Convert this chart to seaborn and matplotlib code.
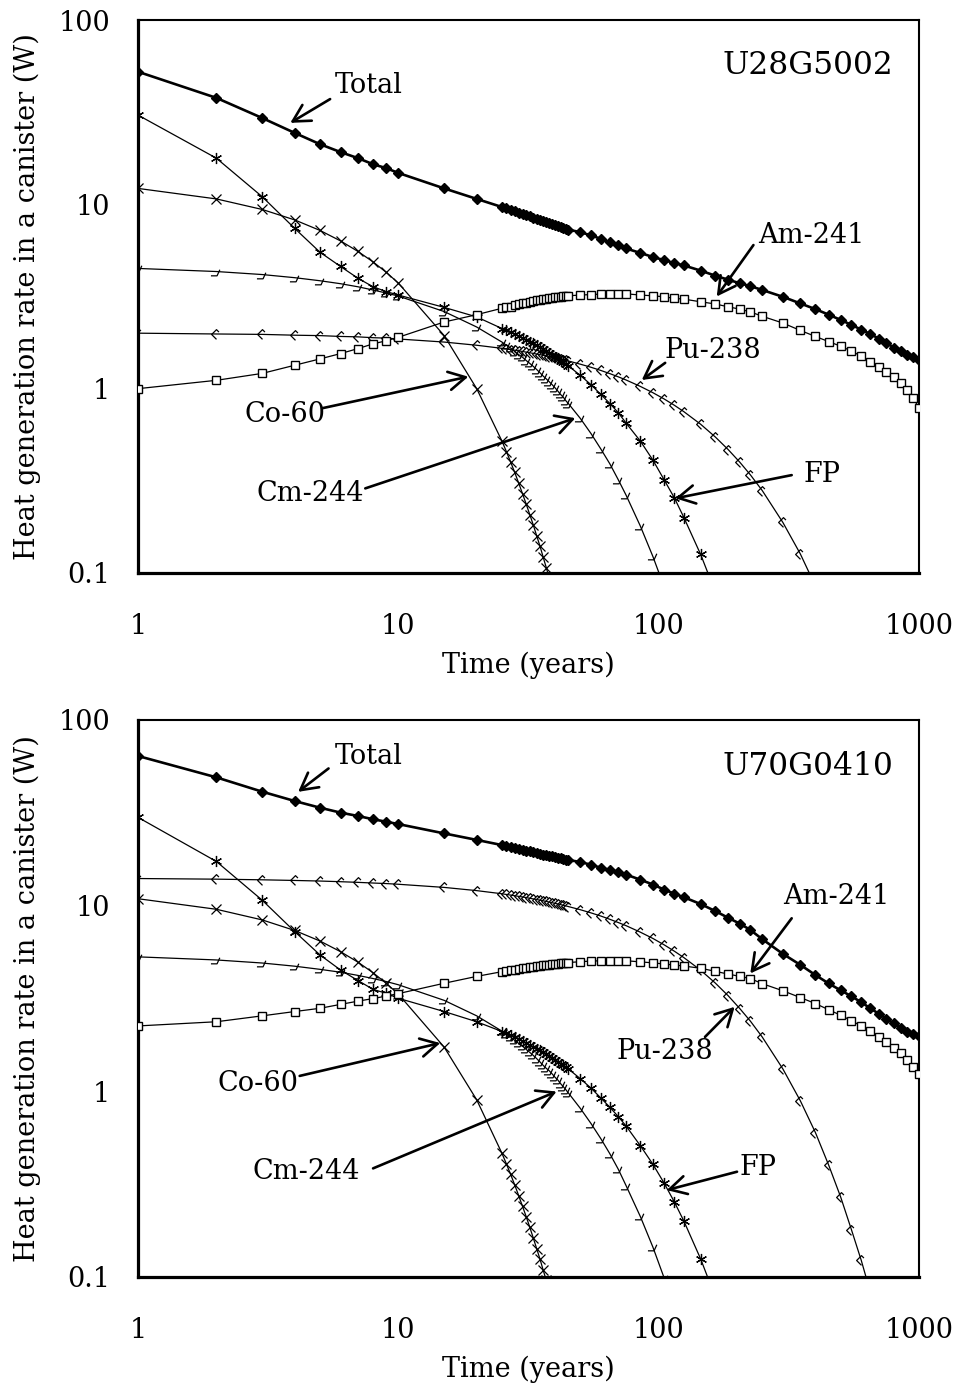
import matplotlib
matplotlib.use("Agg")
import matplotlib.pyplot as plt
from matplotlib.path import Path
from matplotlib.ticker import NullLocator
import seaborn as sns

# ---------------------------------------------------------------- data
YEARS = [1, 2, 3, 4, 5, 6, 7, 8, 9, 10, 15, 20,
         25, 26, 27, 28, 29, 30, 31, 32, 33, 34, 35, 36, 37, 38, 39, 40, 41, 42, 43, 44, 45,
         50, 55, 60, 65, 70, 75, 85, 95, 105, 115, 125, 145, 165, 185, 205, 225,
         250, 300, 350, 400, 450, 500, 550, 600, 650, 700, 750, 800, 850, 900, 950, 1000]

# canister U28G5002 (W)
total_a = [52.4, 37.8, 29.4, 24.4, 21.2, 19.2, 17.8, 16.5, 15.7, 14.8, 12.2, 10.7,
           9.67, 9.50, 9.33, 9.17, 9.02, 8.87, 8.73, 8.60, 8.47, 8.35, 8.23, 8.12, 8.01, 7.90, 7.80, 7.70,
           7.61, 7.52, 7.43, 7.35, 7.28,
           7.07, 6.78, 6.50, 6.22, 5.98, 5.76, 5.45, 5.18, 4.98, 4.80, 4.66, 4.37, 4.10, 3.90, 3.73, 3.60,
           3.43, 3.15, 2.90, 2.70, 2.52, 2.36, 2.22, 2.09, 1.98, 1.87, 1.77, 1.67, 1.60, 1.53, 1.48, 1.43]
fp_a = [30.5, 17.8, 11.0, 7.4, 5.5, 4.6, 3.97, 3.57, 3.36, 3.22, 2.76, 2.45,
        2.12, 2.07, 2.02, 1.98, 1.93, 1.89, 1.84, 1.80, 1.76, 1.72, 1.68, 1.64, 1.60, 1.56, 1.53, 1.49,
        1.46, 1.42, 1.39, 1.36, 1.33,
        1.18, 1.05, 0.93, 0.83, 0.74, 0.65, 0.52, 0.41, 0.32, 0.255, 0.20, 0.126, 0.079]
co_a = [12.2, 10.7, 9.38, 8.23, 7.22, 6.33, 5.55, 4.87, 4.27, 3.74, 1.94, 1.00,
        0.52, 0.456, 0.40, 0.351, 0.307, 0.269, 0.236, 0.207, 0.182, 0.159, 0.140, 0.122, 0.107, 0.094, 0.083]
cm_a = [4.49, 4.32, 4.16, 4.00, 3.85, 3.71, 3.57, 3.43, 3.30, 3.18, 2.62, 2.16,
        1.79, 1.72, 1.66, 1.59, 1.53, 1.48, 1.42, 1.37, 1.32, 1.27, 1.22, 1.17, 1.13, 1.09, 1.05, 1.01,
        0.97, 0.93, 0.90, 0.86, 0.83,
        0.69, 0.57, 0.47, 0.39, 0.32, 0.264, 0.18, 0.123, 0.084]
pu_a = [2.00, 1.98, 1.97, 1.95, 1.94, 1.92, 1.91, 1.89, 1.88, 1.86, 1.79, 1.72,
        1.655, 1.642, 1.629, 1.616, 1.603, 1.591, 1.578, 1.566, 1.553, 1.541, 1.529, 1.517, 1.505, 1.493,
        1.481, 1.470, 1.458, 1.447, 1.435, 1.424, 1.413,
        1.358, 1.306, 1.255, 1.206, 1.159, 1.114, 1.029, 0.951, 0.879, 0.812, 0.750, 0.641, 0.547, 0.467,
        0.399, 0.341,
        0.280, 0.188, 0.127, 0.085]
am_a = [1.00, 1.11, 1.21, 1.34, 1.45, 1.55, 1.65, 1.75, 1.82, 1.90, 2.30, 2.52,
        2.73, 2.76, 2.79, 2.83, 2.87, 2.90, 2.93, 2.96, 2.99, 3.01, 3.03, 3.05, 3.07, 3.09, 3.11, 3.13,
        3.15, 3.16, 3.17, 3.18, 3.19,
        3.22, 3.24, 3.26, 3.27, 3.28, 3.27, 3.22, 3.19, 3.15, 3.09, 3.06, 2.96, 2.88, 2.78, 2.70, 2.61,
        2.47, 2.27, 2.07, 1.92, 1.80, 1.70, 1.60, 1.50, 1.40, 1.31, 1.23, 1.15, 1.07, 0.98, 0.885, 0.79]

# canister U70G0410 (W)
total_b = [64.0, 49.1, 41.1, 36.6, 33.7, 31.7, 30.4, 29.2, 28.3, 27.5, 24.5, 22.6,
           21.2, 20.95, 20.7, 20.45, 20.2, 20.0, 19.8, 19.6, 19.4, 19.2, 19.0, 18.85, 18.7, 18.55, 18.4,
           18.25, 18.1, 17.95, 17.8, 17.7, 17.6,
           17.2, 16.6, 16.0, 15.55, 15.1, 14.7, 13.8, 13.0, 12.2, 11.6, 11.1, 10.2, 9.35, 8.6, 8.0, 7.4,
           6.6, 5.5, 4.8, 4.23, 3.81, 3.5, 3.25, 3.02, 2.8, 2.62, 2.46, 2.32, 2.2, 2.1, 2.04, 1.98]
fp_b = [29.9, 17.3, 10.7, 7.25, 5.43, 4.5, 3.95, 3.54, 3.37, 3.17, 2.69, 2.37,
        2.10, 2.05, 2.00, 1.96, 1.91, 1.87, 1.82, 1.78, 1.74, 1.70, 1.66, 1.62, 1.58, 1.55, 1.51, 1.48,
        1.44, 1.41, 1.38, 1.35, 1.32,
        1.17, 1.04, 0.92, 0.82, 0.73, 0.65, 0.51, 0.405, 0.32, 0.253, 0.20, 0.125, 0.078]
co_b = [10.9, 9.56, 8.38, 7.35, 6.45, 5.65, 4.96, 4.35, 3.81, 3.34, 1.73, 0.90,
        0.464, 0.407, 0.357, 0.313, 0.274, 0.240, 0.211, 0.185, 0.162, 0.142, 0.125, 0.109, 0.096, 0.084, 0.074]
cm_b = [5.30, 5.10, 4.91, 4.72, 4.54, 4.38, 4.21, 4.05, 3.90, 3.75, 3.09, 2.55,
        2.11, 2.03, 1.96, 1.88, 1.81, 1.75, 1.68, 1.62, 1.56, 1.50, 1.44, 1.38, 1.33, 1.29, 1.24, 1.19,
        1.15, 1.10, 1.06, 1.02, 0.98,
        0.81, 0.67, 0.555, 0.46, 0.38, 0.31, 0.212, 0.145, 0.0987]
pu_b = [14.0, 13.89, 13.78, 13.67, 13.57, 13.46, 13.35, 13.24, 13.15, 13.04, 12.54, 12.05,
        11.59, 11.49, 11.40, 11.31, 11.22, 11.14, 11.05, 10.96, 10.87, 10.79, 10.70, 10.62, 10.54, 10.45,
        10.37, 10.29, 10.21, 10.13, 10.05, 9.97, 9.89,
        9.51, 9.14, 8.79, 8.44, 8.11, 7.80, 7.20, 6.66, 6.15, 5.68, 5.25, 4.49, 3.83, 3.27, 2.79, 2.39,
        1.96, 1.32, 0.89, 0.60, 0.40, 0.27, 0.18, 0.123, 0.083]
am_b = [2.25, 2.37, 2.55, 2.69, 2.80, 2.94, 3.06, 3.16, 3.26, 3.36, 3.82, 4.16,
        4.41, 4.45, 4.49, 4.53, 4.57, 4.60, 4.63, 4.66, 4.69, 4.72, 4.75, 4.77, 4.79, 4.81, 4.83, 4.85,
        4.87, 4.89, 4.90, 4.92, 4.94,
        4.99, 5.03, 5.05, 5.06, 5.06, 5.05, 4.98, 4.92, 4.85, 4.79, 4.73, 4.60, 4.43, 4.28, 4.16, 4.05,
        3.80, 3.48, 3.20, 2.97, 2.75, 2.57, 2.40, 2.25, 2.11, 1.97, 1.84, 1.72, 1.60, 1.48, 1.36, 1.24]

X_TICKS = [1, 10, 100, 1000]
X_TICKLABELS = ["1", "10", "100", "1000"]
Y_TICKS = [0.1, 1, 10, 100]
Y_TICKLABELS = ["0.1", "1", "10", "100"]

# ---------------------------------------------------------------- style
sns.set_theme(style="white")
plt.rcParams["font.family"] = ["DejaVu Serif"]

FS = 19.5

# open markers imitating the clipped glyphs of the original plot
PU_MARK = Path([(0.5, 0.5), (0.0, 1.0), (-1.0, 0.0), (0.0, -1.0)],
               [Path.MOVETO, Path.LINETO, Path.LINETO, Path.LINETO])
CM_MARK = Path([(-1.0, -0.6), (0.1, -0.6), (0.6, 0.5)],
               [Path.MOVETO, Path.LINETO, Path.LINETO])
STAR6 = (6, 2, 0)

STYLE = {
    "Cm-244": dict(marker=CM_MARK, ms=8, mfc="none", mew=0.9, lw=0.9, z=3),
    "Pu-238": dict(marker=PU_MARK, ms=7, mfc="none", mew=0.9, lw=0.9, z=3),
    "Co-60": dict(marker="x", ms=7, mfc="none", mew=0.9, lw=0.9, z=4),
    "FP": dict(marker=STAR6, ms=8, mfc="none", mew=0.9, lw=0.9, z=4),
    "Am-241": dict(marker="s", ms=6.2, mfc="white", mew=1.0, lw=0.9, z=5),
    "Total": dict(marker="D", ms=5.2, mfc="black", mew=1.0, lw=1.9, z=6),
}


def draw_series(ax, values, name):
    st = STYLE[name]
    sns.lineplot(x=YEARS[:len(values)], y=values, ax=ax, color="black",
                 lw=st["lw"], marker=st["marker"], ms=st["ms"],
                 mfc=st["mfc"], mec="black", mew=st["mew"],
                 estimator=None, sort=False, errorbar=None, legend=False,
                 zorder=st["z"])


def label(ax, text, txt_xy, tail, head):
    ax.text(*txt_xy, text, transform=ax.transAxes, ha="center", va="center",
            fontsize=FS, color="black", zorder=10)
    ax.annotate("", xy=head, xytext=tail, xycoords="axes fraction",
                textcoords="axes fraction",
                arrowprops=dict(arrowstyle="->,head_length=0.55,head_width=0.3",
                                lw=1.9, color="black", shrinkA=0, shrinkB=0,
                                mutation_scale=22),
                zorder=10)


def setup(ax, sample):
    ax.set_xscale("log")
    ax.set_yscale("log")
    ax.set_xlim(1, 1000)
    ax.set_ylim(0.1, 100)
    ax.set_xticks(X_TICKS)
    ax.set_xticklabels(X_TICKLABELS)
    ax.set_yticks(Y_TICKS)
    ax.set_yticklabels(Y_TICKLABELS)
    ax.xaxis.set_minor_locator(NullLocator())
    ax.yaxis.set_minor_locator(NullLocator())
    ax.tick_params(axis="both", which="major", direction="in", length=6,
                   width=2.0, color="black", labelsize=FS, labelcolor="black")
    ax.tick_params(axis="x", pad=29)
    ax.tick_params(axis="y", pad=20)
    ax.set_facecolor("white")
    for side in ("left", "bottom"):
        ax.spines[side].set_linewidth(2.3)
        ax.spines[side].set_color("black")
    for side in ("top", "right"):
        ax.spines[side].set_linewidth(1.5)
        ax.spines[side].set_color("black")
    ax.set_xlabel("Time (years)", fontsize=FS, color="black")
    ax.set_ylabel("Heat generation rate in a canister (W)", fontsize=FS,
                  color="black")
    ax.xaxis.set_label_coords(0.5, -0.142)
    ax.yaxis.set_label_coords(-0.124, 0.5)
    ax.text(0.967, 0.917, sample, transform=ax.transAxes, ha="right",
            va="center", fontsize=22.5, color="black")


fig = plt.figure(figsize=(9.54, 13.87), dpi=100)
fig.patch.set_facecolor("white")
ax1 = fig.add_axes([0.14465, 0.58688, 0.81866, 0.39870])
ax2 = fig.add_axes([0.14465, 0.07931, 0.81866, 0.40159])

for ax, sample, series in (
    (ax1, "U28G5002", [("Cm-244", cm_a), ("Pu-238", pu_a), ("Co-60", co_a),
                       ("FP", fp_a), ("Am-241", am_a), ("Total", total_a)]),
    (ax2, "U70G0410", [("Cm-244", cm_b), ("Pu-238", pu_b), ("Co-60", co_b),
                       ("FP", fp_b), ("Am-241", am_b), ("Total", total_b)]),
):
    setup(ax, sample)
    for name, vals in series:
        draw_series(ax, vals, name)

# callouts, upper panel
label(ax1, "Total", (0.296, 0.881), (0.246, 0.857), (0.195, 0.814))
label(ax1, "Am-241", (0.862, 0.611), (0.788, 0.593), (0.741, 0.500))
label(ax1, "Pu-238", (0.736, 0.403), (0.675, 0.380), (0.645, 0.349))
label(ax1, "FP", (0.876, 0.179), (0.837, 0.177), (0.688, 0.135))
label(ax1, "Co-60", (0.188, 0.286), (0.236, 0.298), (0.423, 0.355))
label(ax1, "Cm-244", (0.220, 0.143), (0.291, 0.153), (0.560, 0.280))

# callouts, lower panel
label(ax2, "Total", (0.296, 0.935), (0.244, 0.913), (0.205, 0.871))
label(ax2, "Am-241", (0.894, 0.684), (0.837, 0.644), (0.784, 0.545))
label(ax2, "Pu-238", (0.675, 0.404), (0.726, 0.431), (0.764, 0.485))
label(ax2, "FP", (0.794, 0.196), (0.767, 0.189), (0.677, 0.156))
label(ax2, "Co-60", (0.154, 0.348), (0.207, 0.361), (0.387, 0.420))
label(ax2, "Cm-244", (0.215, 0.190), (0.301, 0.195), (0.536, 0.333))

fig.savefig("out.png", dpi=100, facecolor="white")
